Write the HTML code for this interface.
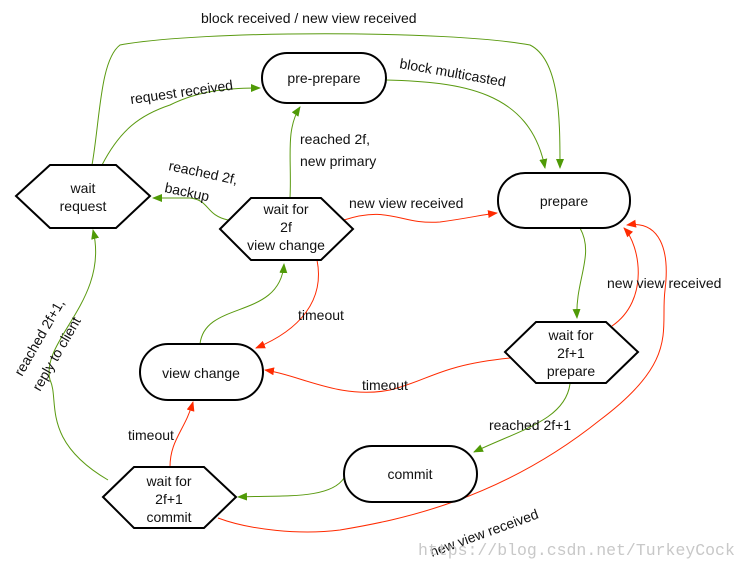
<!DOCTYPE html>
<html><head><meta charset="utf-8"><style>
html,body{margin:0;padding:0;background:#fff}
svg{display:block}
text{font-family:"Liberation Sans",sans-serif;font-size:14px;fill:#111}
</style></head><body>
<svg width="748" height="568" viewBox="0 0 748 568" xmlns="http://www.w3.org/2000/svg">
<defs>
<marker id="g" markerWidth="10" markerHeight="8" refX="9" refY="4" orient="auto" markerUnits="userSpaceOnUse"><path d="M0,0 L10,4 L0,8 z" fill="#4f9a06"/></marker>
<marker id="r" markerWidth="10" markerHeight="8" refX="9" refY="4" orient="auto" markerUnits="userSpaceOnUse"><path d="M0,0 L10,4 L0,8 z" fill="#ff2a00"/></marker>
</defs>
<g fill="none" stroke-width="1">
<path d="M92,165 C100,120 100,60 120,45 C200,30 450,30 530,45 C560,60 560,120 560,168" stroke="#5a9a10" marker-end="url(#g)"/>
<path d="M102,165 C120,130 140,115 170,105 C200,90 230,88 260,88" stroke="#5a9a10" marker-end="url(#g)"/>
<path d="M386,80 C460,82 530,90 545,168" stroke="#5a9a10" marker-end="url(#g)"/>
<path d="M290,198 C292,160 285,130 300,107" stroke="#5a9a10" marker-end="url(#g)"/>
<path d="M228,220 C205,215 210,200 190,198 L153,198" stroke="#5a9a10" marker-end="url(#g)"/>
<path d="M200,344 C205,300 280,320 284,264" stroke="#5a9a10" marker-end="url(#g)"/>
<path d="M580,228 C595,255 575,280 577,318" stroke="#5a9a10" marker-end="url(#g)"/>
<path d="M570,384 C565,420 520,430 474,452" stroke="#5a9a10" marker-end="url(#g)"/>
<path d="M344,478 C330,500 280,495 238,497" stroke="#5a9a10" marker-end="url(#g)"/>
<path d="M108,480 C40,440 60,400 50,380 C40,340 110,300 93,230" stroke="#5a9a10" marker-end="url(#g)"/>
<path d="M344,220 C390,205 400,225 440,222 C470,218 480,215 497,213" stroke="#ff2a00" marker-end="url(#r)"/>
<path d="M317,260 C325,300 300,330 256,348" stroke="#ff2a00" marker-end="url(#r)"/>
<path d="M510,358 C440,365 430,380 390,390 C340,400 300,375 265,370" stroke="#ff2a00" marker-end="url(#r)"/>
<path d="M612,326 C650,300 640,245 624,228" stroke="#ff2a00" marker-end="url(#r)"/>
<path d="M170,467 C170,440 185,430 193,402" stroke="#ff2a00" marker-end="url(#r)"/>
<path d="M218,518 C250,530 300,535 340,530 C400,520 500,500 600,420 C680,360 660,330 665,290 C670,250 660,220 627,225" stroke="#ff2a00" marker-end="url(#r)"/>
</g>
<g fill="#fff" stroke="#000" stroke-width="2">
<rect x="262" y="53" width="124" height="50" rx="25"/>
<rect x="498" y="173" width="132" height="55" rx="27"/>
<rect x="140" y="344" width="123" height="56" rx="28"/>
<rect x="344" y="446" width="133" height="56" rx="28"/>
<polygon points="16,196 50,165 116,165 150,196 116,228 50,228"/>
<polygon points="220,229 251,198 321,198 353,229 321,260 251,260"/>
<polygon points="505,352 536,322 606,322 638,352 606,383 536,383"/>
<polygon points="103,497 134,467 204,467 236,497 204,528 134,528"/>
</g>
<g text-anchor="middle">
<text x="324" y="83">pre-prepare</text>
<text x="564" y="206">prepare</text>
<text x="201" y="378">view change</text>
<text x="410" y="479">commit</text>
<text x="83" y="193">wait</text><text x="83" y="211">request</text>
<text x="286" y="214">wait for</text><text x="286" y="232">2f</text><text x="286" y="250">view change</text>
<text x="571" y="340">wait for</text><text x="571" y="358">2f+1</text><text x="571" y="376">prepare</text>
<text x="169" y="486">wait for</text><text x="169" y="504">2f+1</text><text x="169" y="522">commit</text>
</g>
<text x="201" y="23">block received / new view received</text>
<text x="131" y="104" transform="rotate(-8 131 104)">request received</text>
<text x="399" y="68" transform="rotate(10 399 68)">block multicasted</text>
<text x="300" y="144">reached 2f,</text>
<text x="300" y="166">new primary</text>
<text x="168" y="170" transform="rotate(12 168 170)">reached 2f,</text>
<text x="164" y="192" transform="rotate(12 164 192)">backup</text>
<text x="349" y="208">new view received</text>
<text x="298" y="320">timeout</text>
<text x="607" y="288">new view received</text>
<text x="362" y="390">timeout</text>
<text x="489" y="430">reached 2f+1</text>
<text x="128" y="440">timeout</text>
<text x="22" y="377" transform="rotate(-60 22 377)">reached 2f+1,</text>
<text x="40" y="392" transform="rotate(-60 40 392)">reply to client</text>
<text x="432" y="557" transform="rotate(-20 432 557)">new view received</text>
<text x="418" y="555" style="font-family:'Liberation Mono',monospace;font-size:16.5px;fill:#c8c8c8">https://blog.csdn.net/TurkeyCock</text>
</svg>
</body></html>
